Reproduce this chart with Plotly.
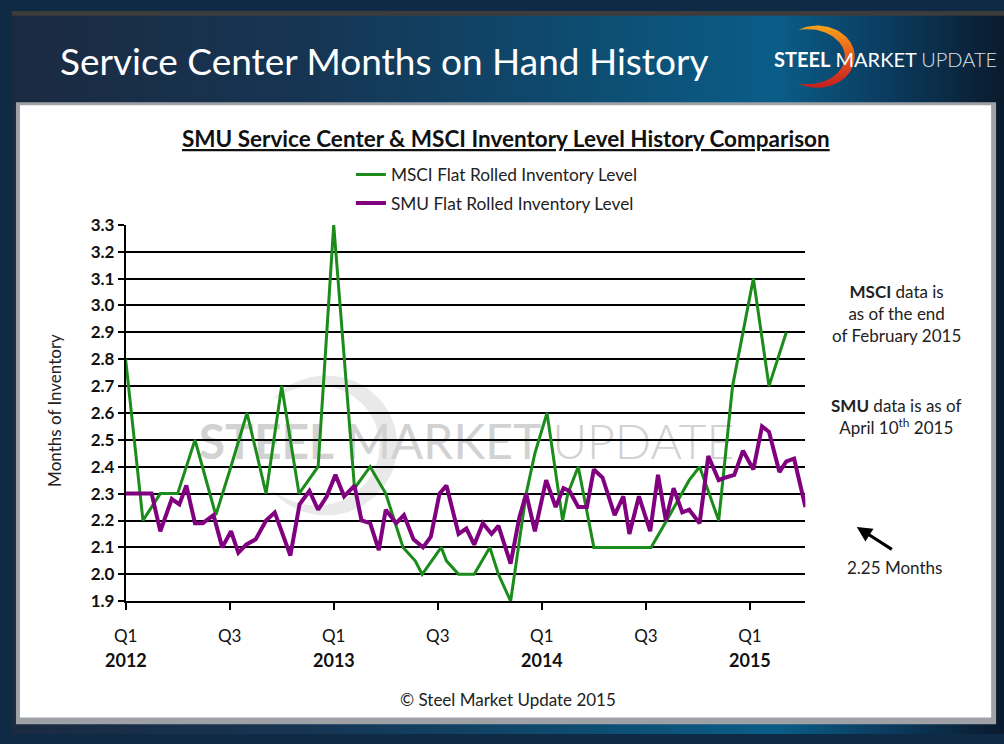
import numpy as np
import plotly.graph_objects as go

W, H = 1004, 744

# ---------------- data (months since Jan 2012) ----------------
msci_month = [0, 1, 2, 3, 3.5, 4, 4.6, 5.2, 6, 7, 8.1, 9, 10, 11.1, 12, 13.2, 14.1, 15, 16, 16.7,
              17.1, 18.2, 18.5, 19.2, 20.1, 21, 21.5, 22.2, 23.1, 23.6, 24.3, 24.8, 25.2, 25.5, 26.1, 27,
              30.3, 31.2, 32.1, 32.5, 33.1, 34.2, 35, 35.6, 36.2, 37.1, 38.1]
msci_value = [2.8, 2.2, 2.3, 2.3, 2.4, 2.5, 2.36, 2.22, 2.385, 2.6, 2.3, 2.7, 2.3, 2.4, 3.3, 2.32, 2.4, 2.3, 2.1, 2.05,
              2.0, 2.1, 2.05, 2.0, 2.0, 2.1, 2.0, 1.9, 2.3, 2.45, 2.6, 2.37, 2.2, 2.3, 2.4, 2.1,
              2.1, 2.2, 2.3, 2.35, 2.4, 2.2, 2.7, 2.9, 3.1, 2.7, 2.9]

smu_month = [0, 0.5, 1, 1.5, 2, 2.66, 3.1, 3.5, 4, 4.45, 5.07, 5.57, 6.08, 6.5, 6.95, 7.5, 8.1, 8.6, 9.5, 10.03,
             10.6, 11.1, 11.6, 12.1, 12.6, 13.2, 13.6, 14.1, 14.6, 15, 15.6, 16.05, 16.6, 17.15, 17.6, 18.1, 18.5,
             19.2, 19.65, 20.1, 20.6, 21.1, 21.5, 22.2, 22.7, 23.1, 23.6, 24.25, 24.8, 25.25, 25.6, 26.1, 26.6, 27,
             27.5, 28.2, 28.7, 29.05, 29.6, 30.25, 30.7, 31.15, 31.6, 32.1, 32.5, 33.1, 33.6, 34.2, 34.6, 35.1,
             35.6, 36.2, 36.7, 37.1, 37.7, 38.1, 38.55, 39.2]
smu_value = [2.30, 2.30, 2.30, 2.30, 2.16, 2.28, 2.26, 2.33, 2.19, 2.19, 2.22, 2.10, 2.16, 2.08, 2.11, 2.13, 2.20, 2.23,
             2.07, 2.26, 2.31, 2.24, 2.29, 2.37, 2.29, 2.33, 2.20, 2.19, 2.09, 2.24, 2.19, 2.22, 2.13, 2.10, 2.14,
             2.30, 2.33, 2.15, 2.17, 2.11, 2.19, 2.15, 2.18, 2.04, 2.21, 2.30, 2.16, 2.35, 2.25, 2.32, 2.31, 2.25,
             2.25, 2.39, 2.36, 2.22, 2.29, 2.15, 2.29, 2.16, 2.37, 2.20, 2.32, 2.23, 2.24, 2.19, 2.44, 2.35, 2.36,
             2.37, 2.46, 2.39, 2.55, 2.53, 2.38, 2.42, 2.43, 2.25]

tick_months = [0, 6, 12, 18, 24, 30, 36]
tick_quarters = ["Q1", "Q3", "Q1", "Q3", "Q1", "Q3", "Q1"]
year_months = [0, 12, 24, 36]
year_labels = ["2012", "2013", "2014", "2015"]

FONT = "Lato"

fig = go.Figure()


def rect(x0, y0, x1, y1, **kw):
    fig.add_trace(go.Scatter(x=[x0, x1, x1, x0, x0], y=[y0, y0, y1, y1, y0], mode="lines",
                             fill="toself", line=dict(width=0, color="rgba(0,0,0,0)"),
                             hoverinfo="skip", showlegend=False, xaxis="x", yaxis="y", **kw))


def crescent(cx, cy, rx, ry, wmax, th0, **kw):
    th = np.radians(np.linspace(-th0, th0, 90))
    w = wmax * np.cos(th / np.radians(th0) * np.pi / 2) ** 0.8
    ox, oy = cx + rx * np.cos(th), cy + ry * np.sin(th)
    ix, iy = cx + (rx - w) * np.cos(th), cy + (ry - w) * np.sin(th)
    xs = np.concatenate([ox, ix[::-1], ox[:1]])
    ys = np.concatenate([oy, iy[::-1], oy[:1]])
    fig.add_trace(go.Scatter(x=xs, y=ys, mode="lines", fill="toself",
                             line=dict(width=0, color="rgba(0,0,0,0)"),
                             hoverinfo="skip", showlegend=False, xaxis="x", yaxis="y", **kw))


# ---------------- background (pixel-space subplot) ----------------
rect(0, 0, W, H, fillgradient=dict(type="horizontal", colorscale=[
    [0, "#1b2a41"], [0.3, "#163553"], [0.55, "#0e4a6e"], [0.77, "#0a5d88"],
    [0.88, "#0b3c5f"], [1, "#0a1a2d"]]))
rect(0, 0, W, 5, fillcolor="#3c3c3c")
rect(4, 94, 996, 734, fillcolor="#9ea2a6")
rect(8, 97, 991, 727, fillcolor="#ffffff")
# logo crescent
crescent(815, 47, 38, 32, 10, 120, fillgradient=dict(type="vertical", colorscale=[
    [0, "#c41f1f"], [0.5, "#e8561c"], [1, "#f7a31b"]]))
# watermark crescent and text
crescent(318, 447, 72, 72, 18, 140, fillcolor="#e9e9e9")
fig.add_trace(go.Scatter(
    x=[460], y=[449], mode="text",
    text=["<b>STEEL</b> MARKET <span style='font-weight:300'>UPDATE</span>"],
    textfont=dict(family=FONT, size=48, color="#d2d2d2"),
    hoverinfo="skip", showlegend=False, xaxis="x", yaxis="y"))

# ---------------- main chart ----------------
fig.add_trace(go.Scatter(x=msci_month, y=msci_value, mode="lines", name="MSCI Flat Rolled Inventory Level",
                         line=dict(color="#1b8c1b", width=3), legendgroup="a",
                         xaxis="x2", yaxis="y2"))
fig.add_trace(go.Scatter(x=smu_month, y=smu_value, mode="lines", name="SMU Flat Rolled Inventory Level",
                         line=dict(color="#800080", width=4), legendgroup="b",
                         xaxis="x2", yaxis="y2"))

ann = []


def txt(x, y, text, size=17, color="#222222", xanchor="center", **kw):
    ann.append(dict(x=x, y=y, xref="x", yref="y", text=text, showarrow=False, xanchor=xanchor,
                    yanchor="middle", font=dict(family=FONT, size=size, color=color), **kw))


txt(47, 51, "Service Center Months on Hand History", size=37, color="#ffffff", xanchor="left")
txt(769, 49, "<b>STEEL</b> MARKET <span style='font-weight:300;color:#dbe3ec'>UPDATE</span>",
    size=20, color="#ffffff", xanchor="left")
ann.append(dict(x=500, y=131, xref="x", yref="y", showarrow=False,
                text="<b>SMU Service Center &amp; MSCI Inventory Level History Comparison</b>",
                font=dict(family=FONT, size=22.5, color="#111111", lineposition="under")))
txt(43, 411, "Months of Inventory", textangle=-90)
txt(895, 311, "<b>MSCI</b> data is<br>as of the end<br>of February 2015")
txt(895, 417, "<b>SMU</b> data is as of<br>April 10<sup>th</sup> 2015")
txt(893, 573, "2.25 Months")
txt(502, 708, "© Steel Market Update 2015")
ann.append(dict(x=855, y=531, xref="x", yref="y", ax=892, ay=555, axref="x", ayref="y",
                text="", showarrow=True, arrowhead=2, arrowsize=1, arrowwidth=3, arrowcolor="#000000"))
for m, lab in zip(year_months, year_labels):
    ann.append(dict(x=m, y=668, xref="x2", yref="y", text="<b>%s</b>" % lab, showarrow=False,
                    font=dict(family=FONT, size=18, color="#111111")))

fig.update_layout(
    autosize=True, margin=dict(l=0, r=0, t=0, b=0),
    paper_bgcolor="#0f2a44", plot_bgcolor="rgba(0,0,0,0)",
    xaxis=dict(domain=[0, 1], range=[0, W], visible=False, fixedrange=True),
    yaxis=dict(domain=[0, 1], range=[H, 0], visible=False, fixedrange=True),
    xaxis2=dict(domain=[115 / W, 803 / W], range=[0, 39.2], anchor="y2",
                tickvals=tick_months, ticktext=tick_quarters, ticks="outside", ticklen=7,
                tickwidth=1.5, tickcolor="#000", showline=True, linecolor="#000", linewidth=1.5,
                showgrid=False, zeroline=False, ticklabelstandoff=12,
                tickfont=dict(family=FONT, size=17, color="#111111")),
    yaxis2=dict(domain=[1 - 607.3 / H, 1 - 220 / H], range=[1.9, 3.3], anchor="x2",
                tick0=1.9, dtick=0.1, tickformat=".1f", ticks="outside", ticklen=6, tickwidth=1.5,
                tickcolor="#000", showline=True, linecolor="#000", linewidth=1.5,
                showgrid=True, gridcolor="#000", gridwidth=1.5, zeroline=False,
                tickfont=dict(family=FONT, size=17, color="#111111", weight="bold")),
    legend=dict(x=343 / W, y=1 - 150 / H, xanchor="left", yanchor="top", bgcolor="rgba(0,0,0,0)",
                font=dict(family=FONT, size=17.3, color="#222222"), tracegroupgap=3,
                traceorder="grouped"),
    annotations=ann,
    showlegend=True,
)

fig.write_html("out.html", config={"displayModeBar": False},
               default_width="%dpx;position:absolute;left:0;top:0" % W, default_height="%dpx" % H,
               post_script="document.body.style.margin='0';document.body.style.overflow='hidden';")
